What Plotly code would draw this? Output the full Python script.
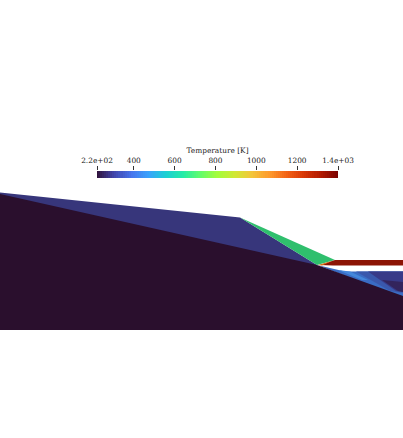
import plotly.graph_objects as go

# ---- colour bar values ----
temp_ticks = [220, 400, 600, 800, 1000, 1200, 1400]
temp_labels = ["2.2e+02", "400", "600", "800", "1000", "1200", "1.4e+03"]
temp_ramp = list(range(220, 1401, 10))

# ---- geometry, in screen-like units ----
solid_x = [0, 317, 403, 403, 0]
solid_y = [194, 265, 296, 330, 330]

shock_x = [0, 240, 317, 317, 0]
shock_y = [192.5, 217.5, 265, 270, 200]

green_x = [240, 335, 317]
green_y = [217.5, 260, 265]

hot_x = [320, 335, 403, 403, 333]
hot_y = [265, 260, 260, 265.5, 265.5]

warm_x = [318, 332, 322]
warm_y = [265, 261, 265.5]

# lower right wedge, painted from the outer band inwards
wedge_x = [317, 345, 403, 403]
wedge_y = [265, 271.5, 271.5, 298]

wedge_light_x = [338, 350, 368, 362]
wedge_light_y = [270, 271.5, 280, 280]

wedge_mid_x = [356, 403, 403, 390]
wedge_mid_y = [271.5, 271.5, 293, 291]

wedge_navy_x = [368, 403, 403, 396]
wedge_navy_y = [271.5, 271.5, 292, 291]

wedge_dark_x = [382, 403, 403, 398]
wedge_dark_y = [280, 282, 292, 291]

COLORS = {"solid": "#2a0f2d", "shock": "#37367b", "green": "#2fbf6d", "hot": "#8c1404",
          "warm": "#d9701a", "wedge": "#3a6cc4", "light": "#4488dc", "mid": "#3a58ac",
          "navy": "#383a88", "dark": "#33245c"}

fig = go.Figure()


def add_region(x, y, color):
    fig.add_trace(go.Scatter(x=x, y=y, mode="lines", fill="toself", fillcolor=color,
                             line=dict(width=0), hoverinfo="skip", showlegend=False))


add_region(shock_x, shock_y, COLORS["shock"])
add_region(green_x, green_y, COLORS["green"])
add_region(wedge_x, wedge_y, COLORS["wedge"])
add_region(wedge_light_x, wedge_light_y, COLORS["light"])
add_region(wedge_mid_x, wedge_mid_y, COLORS["mid"])
add_region(wedge_navy_x, wedge_navy_y, COLORS["navy"])
add_region(wedge_dark_x, wedge_dark_y, COLORS["dark"])
add_region(hot_x, hot_y, COLORS["hot"])
add_region(warm_x, warm_y, COLORS["warm"])
add_region(solid_x, solid_y, COLORS["solid"])

# colour bar on its own axes
fig.add_trace(go.Heatmap(x=temp_ramp, y=[0, 1], z=[temp_ramp, temp_ramp],
                         colorscale="Turbo", showscale=False, xaxis="x2", yaxis="y2",
                         hoverinfo="skip"))

fig.update_layout(
    width=403, height=438,
    margin=dict(l=0, r=0, t=0, b=0, autoexpand=False),
    paper_bgcolor="white", plot_bgcolor="white",
    font=dict(family="DejaVu Serif", size=7.4, color="#222222"),
    xaxis=dict(range=[0, 403], visible=False, domain=[0, 1], automargin=False),
    yaxis=dict(range=[438, 0], visible=False, domain=[0, 1], automargin=False),
    xaxis2=dict(range=[220, 1400], domain=[97 / 403, 338 / 403], anchor="y2",
                side="top", tickmode="array", tickvals=temp_ticks, ticktext=temp_labels,
                ticks="outside", ticklen=4, tickwidth=1, tickcolor="#333333",
                showgrid=False, zeroline=False, automargin=False,
                title=dict(text="Temperature [K]", standoff=1, font=dict(size=7.4))),
    yaxis2=dict(range=[0, 1], domain=[1 - 178 / 438, 1 - 171 / 438], anchor="x2",
                visible=False, automargin=False),
)

# the page's default body margin would push the figure off the window
fig.write_html("out.html", config=dict(displayModeBar=False),
               post_script="document.body.style.margin = '0';")
